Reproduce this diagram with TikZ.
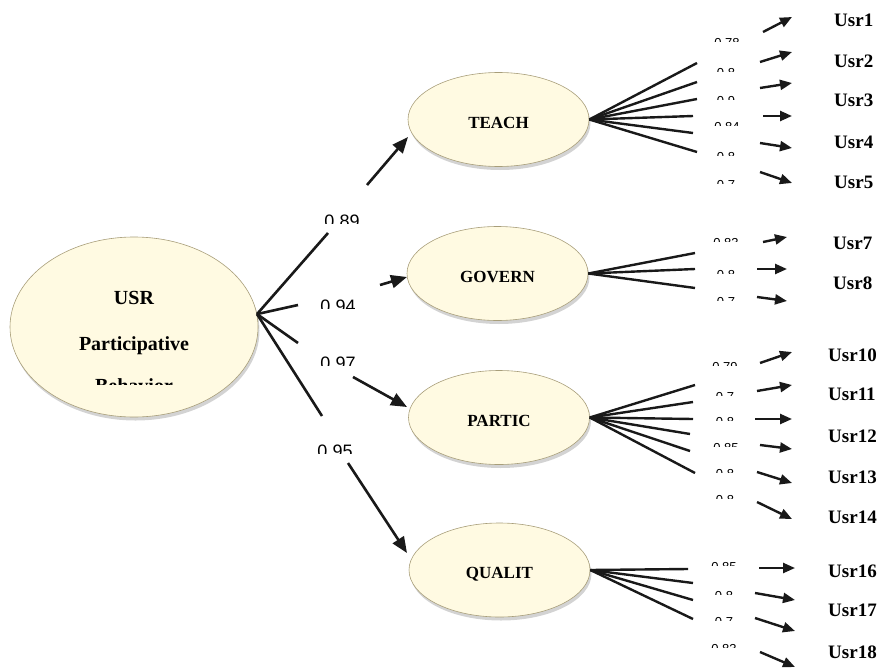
\documentclass[tikz,border=0pt]{standalone}
\usepackage{fontspec}
\setmainfont{Liberation Serif}
\newfontfamily\labfont{Liberation Sans}
\usetikzlibrary{arrows.meta,shapes.geometric,shadows}
\definecolor{eggA}{HTML}{FFFAE2}
\definecolor{eggB}{HTML}{F9F1CF}
\definecolor{eggC}{HTML}{D3C89B}
\definecolor{eggD}{HTML}{A89E7A}
\pgfdeclareradialshading{eggshade}{\pgfpoint{0bp}{0bp}}{color(0bp)=(eggA); color(30bp)=(eggA); color(43bp)=(eggB); color(50bp)=(eggC); color(100bp)=(eggC)}
\newcommand\cutlabel[6]{%
  \begin{scope}
    \clip (#2-28,#3-3) rectangle (#2+28,#3+#5);
    \node[font=\labfont\fontsize{#4}{#4}\selectfont, anchor=north, inner sep=0pt] (#1) at (#2,#3) {#6};
  \end{scope}}
\tikzset{
  egg/.style={ellipse, shading=eggshade, draw=eggD, line width=0.6pt,
    drop shadow={opacity=0.35, shadow xshift=1.5pt, shadow yshift=-3.5pt},
    inner sep=0pt, minimum width=181pt, minimum height=94pt,
    text height=17pt, text depth=0pt,
    font=\bfseries\fontsize{17}{17}\selectfont},
  bigline/.style={line width=2.6pt, black!90},
  bigarrow/.style={line width=2.6pt, black!90, -{Triangle[length=16pt,width=13pt]}},
  fan/.style={line width=2.4pt, black!90},
  sarrow/.style={line width=2.4pt, black!90, -{Triangle[length=12pt,width=10pt]}},
  usrlab/.style={anchor=west, inner sep=0pt, font=\bfseries\fontsize{19}{19}\selectfont},
  bigtext/.style={anchor=base, inner sep=0pt, font=\bfseries\fontsize{20}{20}\selectfont}
}
\begin{document}
\begin{tikzpicture}[x=1pt,y=-1pt]
\useasboundingbox (0,0) rectangle (880,669);

% main ellipse
\node[egg, minimum width=248pt, minimum height=180pt, text height=0pt] (usr) at (134,327) {};
\node[bigtext] (usrt1) at (134,304) {USR};
\node[bigtext] (usrt2) at (134,350) {Participative};
\begin{scope}
  \clip (40,376) rectangle (230,384.5);
  \node[bigtext] (usrt3) at (134,392) {Behavior};
\end{scope}

% factor ellipses
\node[egg] (teach) at (498.5,119.5) {TEACH};
\node[egg] (govern) at (497.5,273.5) {GOVERN};
\node[egg] (partic) at (499,417.5) {PARTIC};
\node[egg] (qualit) at (499.5,570) {QUALIT};

% main paths
\coordinate (u) at (usr.6);
\foreach \ex/\ey/\ax/\ay/\bx/\by [count=\i] in
  {328/233/367/185/408/137, 298/305/380/285/407/277, 298/343/353/377/407/407, 322/416/348/463/407/553}{
  \coordinate (me\i) at (\ex,\ey);
  \coordinate (ma\i) at (\ax,\ay);
  \coordinate (mb\i) at (\bx,\by);
  \draw[bigline] (u) -- (me\i);
  \draw[bigarrow] (ma\i) -- (mb\i);
}
\cutlabel{m1}{342}{215}{18}{8}{0.89}
\cutlabel{m2}{338}{300}{18}{8}{0.94}
\cutlabel{m3}{338}{357}{18}{8}{0.97}
\cutlabel{m4}{335}{445}{18}{8}{0.95}

% TEACH fan
\foreach \ex/\ey/\ax/\ay/\bx/\by [count=\i] in
  {697/63/763/32/792/17, 697/82/760/62/792/52, 697/99/760/88/792/83,
   693/116/763/116/792/116, 693/133/760/143/792/148, 697/152/760/172/792/183}{
  \coordinate (te\i) at (\ex,\ey);
  \coordinate (ta\i) at (\ax,\ay);
  \coordinate (tb\i) at (\bx,\by);
  \draw[fan] (teach.east) -- (te\i);
  \draw[sarrow] (ta\i) -- (tb\i);
}
\cutlabel{t1}{727}{38}{13}{3.5}{0.78}
\cutlabel{t2}{726}{68}{13}{3.5}{0.8}
\cutlabel{t3}{726}{96}{13}{3.5}{0.9}
\cutlabel{t4}{727}{122}{13}{3.5}{0.84}
\cutlabel{t5}{726}{152}{13}{3.5}{0.8}
\cutlabel{t6}{726}{180}{13}{3.5}{0.7}

% GOVERN fan
\foreach \ex/\ey/\ax/\ay/\bx/\by [count=\i] in
  {695/253/763/242/787/237, 695/269/757/269/787/269, 695/288/757/297/787/301}{
  \coordinate (ge\i) at (\ex,\ey);
  \coordinate (ga\i) at (\ax,\ay);
  \coordinate (gb\i) at (\bx,\by);
  \draw[fan] (govern.east) -- (ge\i);
  \draw[sarrow] (ga\i) -- (gb\i);
}
\cutlabel{g1}{726}{238}{13}{3.5}{0.83}
\cutlabel{g2}{726}{270}{13}{3.5}{0.8}
\cutlabel{g3}{726}{297}{13}{3.5}{0.7}

% PARTIC fan
\foreach \ex/\ey/\ax/\ay/\bx/\by [count=\i] in
  {695/385/760/363/792/352, 693/402/757/391/792/385, 693/419/755/419/792/419,
   690/434/760/445/792/449, 690/451/757/472/792/483, 695/473/757/502/792/519}{
  \coordinate (pe\i) at (\ex,\ey);
  \coordinate (pa\i) at (\ax,\ay);
  \coordinate (pb\i) at (\bx,\by);
  \draw[fan] (partic.east) -- (pe\i);
  \draw[sarrow] (pa\i) -- (pb\i);
}
\cutlabel{p1}{725}{362}{13}{3.5}{0.79}
\cutlabel{p2}{725}{392}{13}{3.5}{0.7}
\cutlabel{p3}{725}{417}{13}{3.5}{0.8}
\cutlabel{p4}{726}{443}{13}{3.5}{0.85}
\cutlabel{p5}{725}{469}{13}{3.5}{0.8}
\cutlabel{p6}{725}{495}{13}{3.5}{0.8}

% QUALIT fan
\foreach \ex/\ey/\ax/\ay/\bx/\by [count=\i] in
  {688/569/759/568/795/568, 693/583/755/593/795/600, 693/600/755/618/795/631, 693/619/760/652/795/667}{
  \coordinate (qe\i) at (\ex,\ey);
  \coordinate (qa\i) at (\ax,\ay);
  \coordinate (qb\i) at (\bx,\by);
  \draw[fan] (qualit.east) -- (qe\i);
  \draw[sarrow] (qa\i) -- (qb\i);
}
\cutlabel{q1}{724}{562}{13}{3.5}{0.85}
\cutlabel{q2}{724}{591}{13}{3.5}{0.8}
\cutlabel{q3}{724}{617}{13}{3.5}{0.7}
\cutlabel{q4}{724}{644}{13}{3.5}{0.83}

% indicator labels
\node[usrlab] (usr1) at (834,20) {Usr1};
\node[usrlab] (usr2) at (834,61) {Usr2};
\node[usrlab] (usr3) at (834,100) {Usr3};
\node[usrlab] (usr4) at (834,142) {Usr4};
\node[usrlab] (usr5) at (834,182) {Usr5};
\node[usrlab] (usr7) at (833,243) {Usr7};
\node[usrlab] (usr8) at (833,283) {Usr8};
\node[usrlab] (usr10) at (828,355) {Usr10};
\node[usrlab] (usr11) at (828,394) {Usr11};
\node[usrlab] (usr12) at (828,436) {Usr12};
\node[usrlab] (usr13) at (828,477) {Usr13};
\node[usrlab] (usr14) at (828,517) {Usr14};
\node[usrlab] (usr16) at (828,571) {Usr16};
\node[usrlab] (usr17) at (828,610) {Usr17};
\node[usrlab] (usr18) at (828,652) {Usr18};
\end{tikzpicture}
\end{document}
